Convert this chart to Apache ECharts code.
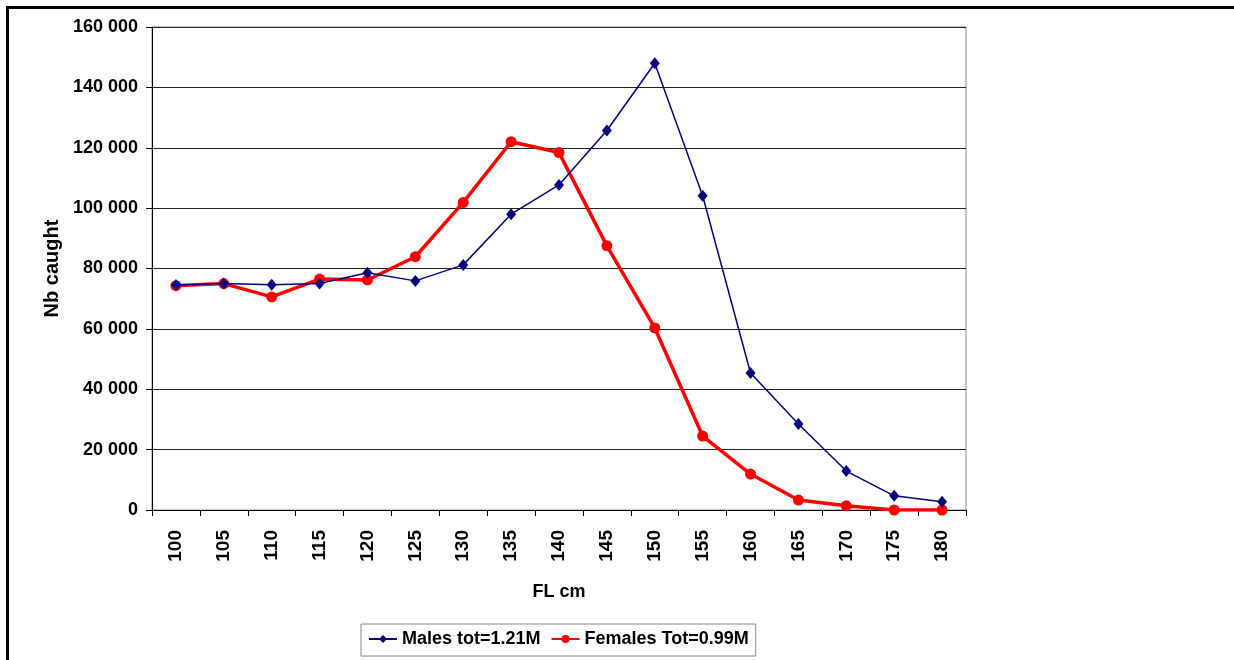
<!DOCTYPE html>
<html>
<head>
<meta charset="utf-8">
<script src="https://cdn.jsdelivr.net/npm/echarts@6/dist/echarts.min.js"></script>
<style>
  html, body { margin: 0; padding: 0; background: #fff; }
  #chart { position: absolute; left: 0; top: 0; width: 1234px; height: 660px; }
  /* outer frame: only top and left edges are visible in the picture */
  #frame { position: absolute; left: 6px; top: 6px; width: 1228px; height: 654px;
    border-top: 3px solid #000; border-left: 3px solid #000; box-sizing: border-box; pointer-events: none; }
</style>
</head>
<body>
<div id="chart"></div>
<div id="frame"></div>
<script>
const lengths = ["100", "105", "110", "115", "120", "125", "130", "135", "140",
  "145", "150", "155", "160", "165", "170", "175", "180"];
const males = [74500, 75000, 74600, 75000, 78600, 75900, 81200, 98000, 107700,
  125700, 148000, 104100, 45400, 28500, 12900, 4700, 2700];
const females = [74300, 75000, 70600, 76500, 76200, 83900, 101900, 122000, 118400,
  87500, 60300, 24500, 11900, 3300, 1400, 0, 0];
const yTicks = [0, 20000, 40000, 60000, 80000, 100000, 120000, 140000, 160000];

const FONT = "Liberation Sans, Arial, sans-serif";
const chart = echarts.init(document.getElementById("chart"));

const option = {
  animation: false,
  backgroundColor: "#fff",
  grid: {
    left: 152,
    right: 268,
    top: 27,
    bottom: 150,
    show: true,
    borderColor: "#888",
    borderWidth: 1
  },
  legend: {
    left: 361,
    top: 624,
    itemGap: 10,
    itemWidth: 28,
    itemHeight: 10,
    padding: [6, 7, 8, 7],
    borderColor: "#888",
    borderWidth: 1,
    textStyle: {
      fontFamily: FONT,
      fontWeight: "bold",
      fontSize: 18,
      color: "#000"
    },
    data: ["Males tot=1.21M", "Females Tot=0.99M"]
  },
  xAxis: {
    type: "category",
    data: lengths,
    boundaryGap: true,
    name: "FL cm",
    nameLocation: "middle",
    nameGap: 73,
    nameTextStyle: { fontFamily: FONT, fontWeight: "bold", fontSize: 18, color: "#000" },
    axisLine: { lineStyle: { color: "#000", width: 1 } },
    axisTick: { show: true, length: 6, lineStyle: { color: "#000" } },
    axisLabel: {
      rotate: 90,
      margin: 20,
      fontFamily: FONT,
      fontWeight: "bold",
      fontSize: 19,
      color: "#000",
      interval: 0
    },
    splitLine: { show: false }
  },
  yAxis: {
    type: "value",
    min: yTicks[0],
    max: yTicks[yTicks.length - 1],
    interval: 20000,
    name: "Nb caught",
    nameLocation: "middle",
    nameGap: 76,
    nameTextStyle: { fontFamily: FONT, fontWeight: "bold", fontSize: 20, color: "#000" },
    axisLine: { show: true, lineStyle: { color: "#000", width: 1 } },
    axisTick: { show: true, length: 6, lineStyle: { color: "#000" } },
    axisLabel: {
      margin: 14,
      fontFamily: FONT,
      fontWeight: "bold",
      fontSize: 18,
      color: "#000",
      formatter: v => v === 0 ? "0" : String(v).replace(/\B(?=(\d{3})+(?!\d))/g, " ")
    },
    splitLine: { show: true, lineStyle: { color: "#222", width: 1 } }
  },
  series: [
    {
      name: "Males tot=1.21M",
      type: "line",
      data: males,
      symbol: "diamond",
      symbolSize: [10, 12],
      lineStyle: { color: "#000080", width: 1.5 },
      itemStyle: { color: "#000080" },
      z: 3
    },
    {
      name: "Females Tot=0.99M",
      type: "line",
      data: females,
      symbol: "circle",
      symbolSize: 11,
      lineStyle: { color: "#ff0000", width: 3.5 },
      itemStyle: { color: "#ff0000" },
      z: 2
    }
  ]
};

chart.setOption(option);
</script>
</body>
</html>
